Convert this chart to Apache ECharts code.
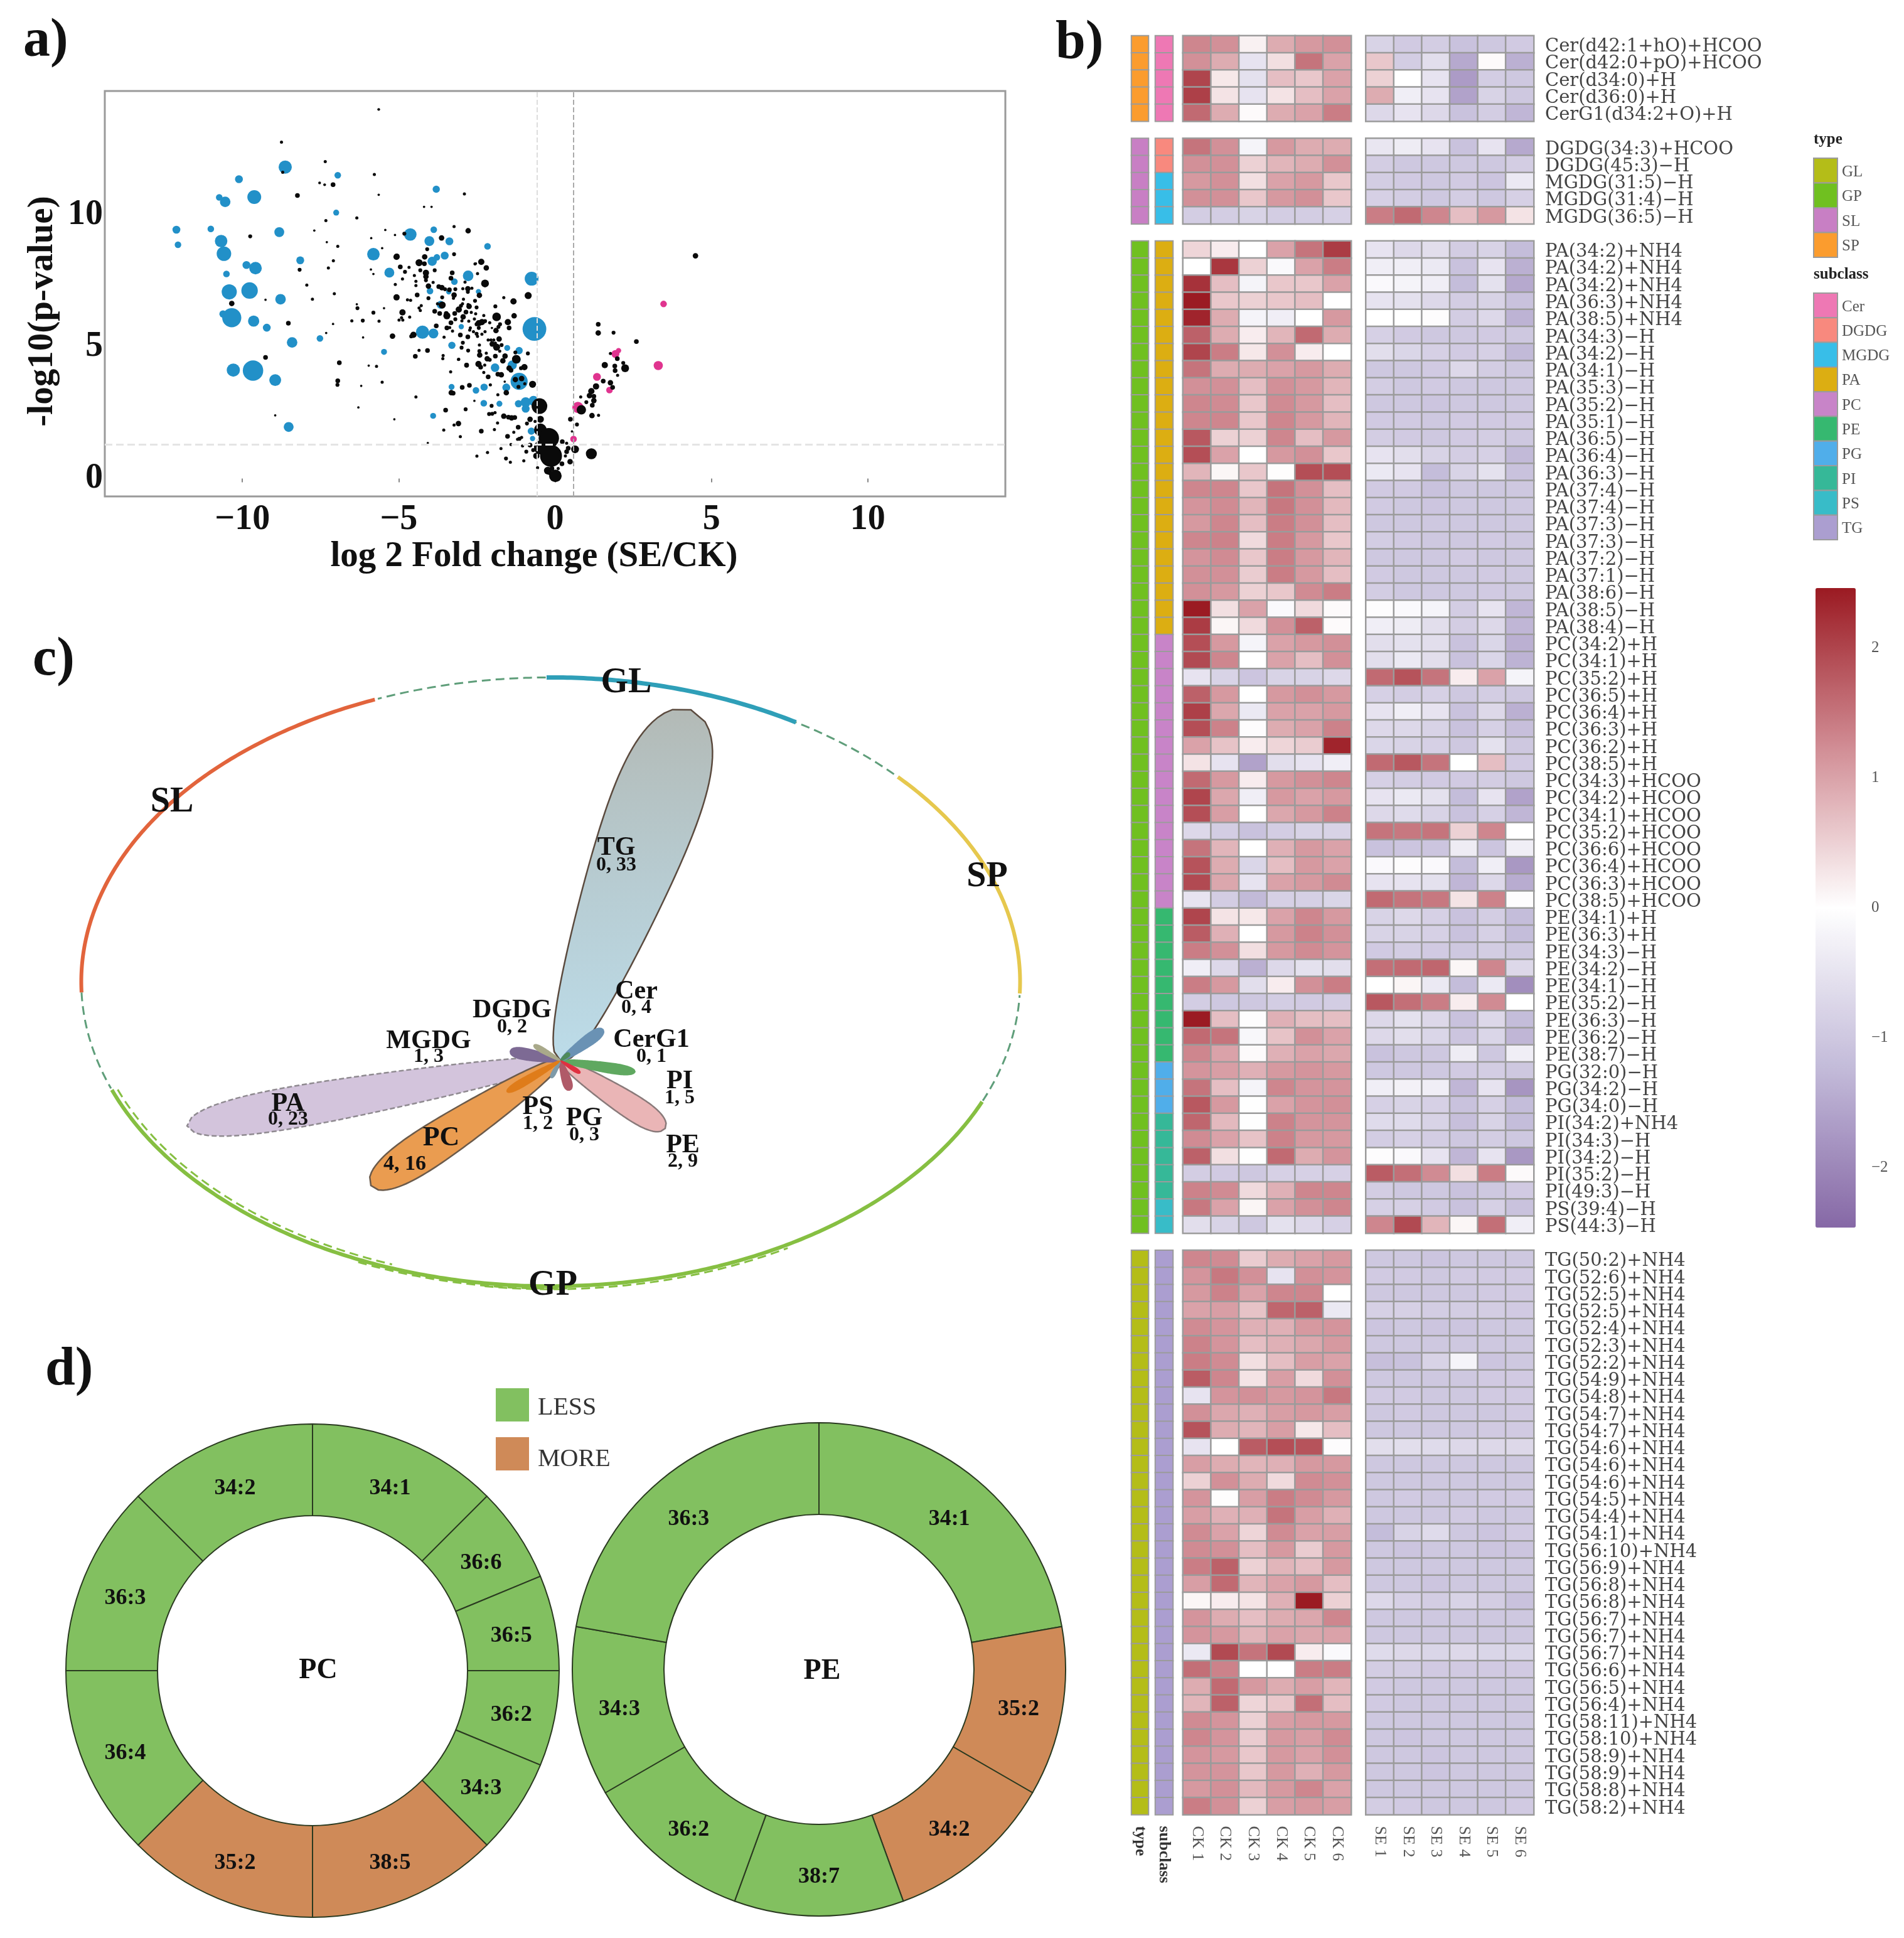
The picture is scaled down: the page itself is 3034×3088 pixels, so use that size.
<!DOCTYPE html>
<html><head><meta charset="utf-8">
<style>html,body{margin:0;padding:0;background:#fff}#c{width:3034px;height:3088px}</style>
<script src="https://cdn.jsdelivr.net/npm/echarts@6/dist/echarts.min.js"></script>
</head><body><div id="c"></div>
<script>
const SERIF='"Liberation Serif"';
// ---------- panel a: volcano [log2FC, -log10p, dot size]
const volcanoBlue=[[-12.11,9.45,12],[-12.06,8.88,10],[-11.01,9.48,10],[-10.11,11.37,12],[-10.74,10.68,10],[-10.55,10.51,16],[-9.62,10.69,21],[-8.63,11.83,20],[-6.95,11.52,10],[-3.8,10.99,11],[-7,10.1,9],[-8.82,9.36,15],[-10.68,9.02,19],[-10.59,8.54,22],[-9.87,8.11,12],[-9.58,7.99,19],[-8.15,8.29,12],[-10.51,7.77,10],[-10.42,7.09,23],[-9.77,7.14,25],[-8.78,6.81,16],[-10.62,6.25,11],[-10.34,6.11,29],[-9.64,5.98,17],[-9.22,5.73,12],[-8.41,5.17,16],[-7.52,5.32,10],[-10.29,4.12,20],[-9.66,4.1,31],[-8.95,3.74,18],[-8.52,1.96,15],[-4.63,9.27,19],[-5.81,8.52,19],[-5.3,7.82,15],[-4.02,9.02,15],[-3.88,9.45,10],[-3.38,9.01,12],[-3.53,8.47,12],[-3.78,8.4,10],[-3.93,8.25,14],[-2.16,8.82,10],[-2.78,7.7,16],[-3.22,7.48,10],[-2.45,7.1,8],[-3.4,7.09,8],[-4,7.12,10],[-3.66,6.6,12],[-0.75,7.59,21],[-0.66,5.68,36],[-4.24,5.56,20],[-3.89,5.51,15],[-3,5.77,8],[-3.3,5.06,11],[-5.47,4.81,9],[-1.53,4.96,9],[-1.15,4.86,11],[-1.23,4.51,12],[-1.37,4.31,14],[-1.92,4.21,13],[-1.15,3.69,26],[-1.56,3.46,12],[-2.27,3.47,11],[-2.53,3.35,10],[-3.31,3.48,9],[-2.28,2.86,10],[-1.78,2.84,9],[-1.17,2.84,11],[-0.94,2.9,15],[-0.69,2.95,15],[-0.94,2.65,12],[-3.9,2.38,9],[-0.76,1.8,11],[-0.72,1.52,8]];
const volcanoPink=[[0.73,2.7,17],[0.59,1.5,10],[1.34,3.86,12],[1.74,3.36,10],[1.93,4.73,12],[2.03,4.86,8],[3.3,4.29,14],[3.47,6.63,10]];
const volcanoBlack=[[-5.07,8.42,8],[-4.95,8.04,6],[-4.67,8.02,4],[-4.8,7.85,5],[-4.88,7.58,4],[-4.5,7.71,4],[-5.11,7.37,4],[-4.45,7.49,4],[-4.45,7.33,4],[-4.35,8.2,9],[-4.17,8.42,7],[-4.18,8.16,6],[-4.31,7.91,5],[-4.13,7.81,8],[-4.13,7.67,7],[-4.13,7.53,5],[-3.85,7.91,5],[-3.9,7.45,4],[-4.05,7.31,7],[-4.05,6.85,5],[-4.41,6.97,6],[-5.07,6.88,8],[-4.72,6.79,4],[-4.62,6.77,4],[-4.28,6.57,4],[-4.35,6.48,4],[-4.31,6.38,4],[-4.88,6.31,8],[-4.91,6.11,4],[-4.99,6.02,4],[-4.87,6.02,4],[-4.65,6.13,4],[-3.85,6.35,6],[-3.69,6.27,6],[-3.72,7.29,6],[-3.62,7.25,7],[-3.52,7.19,5],[-3.38,7.17,6],[-3.19,7.19,5],[-3.29,7.81,6],[-3.33,7.61,6],[-3.23,6.97,7],[-3.61,6.88,5],[-3.25,6.85,4],[-3.61,6.59,9],[-3.76,6.64,4],[-3.46,6.18,9],[-3.48,6.27,6],[-3.21,6.27,6],[-3.19,6.05,5],[-3.33,5.92,6],[-3.46,5.72,6],[-3.37,5.73,4],[-3.28,5.6,4],[-3.55,5.37,4],[-3.03,5.45,6],[-2.79,5.38,6],[-2.95,5.16,5],[-2.99,4.97,5],[-2.78,4.86,5],[-3.58,4.67,4],[-3.59,4.55,4],[-3.09,4.52,4],[-2.83,4.3,6],[-3.34,4.05,4],[-3.8,5.8,6],[-4.08,4.86,6],[-4.35,4.87,4],[-4.47,4.64,6],[-5.2,5.41,7],[-4.53,5.46,8],[-4.6,5.4,5],[-3.08,6.42,8],[-3.01,6.56,5],[-2.96,6.64,4],[-2.93,6.81,4],[-2.75,6.54,7],[-2.78,6.61,4],[-2.51,6.5,5],[-2.56,6.75,5],[-2.85,6.32,6],[-2.68,6.31,4],[-2.54,6.26,4],[-2.94,6.14,7],[-2.98,5.99,4],[-2.76,5.98,4],[-2.58,6.06,4],[-2.28,6.19,4],[-1.87,6.14,11],[-2.44,5.9,8],[-2.34,5.94,8],[-2.24,5.98,5],[-2.51,5.86,5],[-2.09,5.92,4],[-2.44,5.72,5],[-2.71,5.72,4],[-2.73,5.64,4],[-2.61,5.58,4],[-2.51,5.5,5],[-2.48,5.4,4],[-2.34,5.48,4],[-2.24,5.58,4],[-2.02,5.72,3],[-1.89,5.62,7],[-1.81,5.76,5],[-1.76,5.86,5],[-1.51,5.94,8],[-1.47,5.72,6],[-1.31,6.18,7],[-1.91,6.54,5],[-1.33,6.73,8],[-1.64,6.87,4],[-0.86,6.95,9],[-2.36,8.23,8],[-2.2,8,7],[-2.56,8.15,4],[-2.48,7.78,4],[-2.24,7.41,10],[-2.42,6.96,7],[-2.79,7.21,7],[-2.79,7.09,5],[-2.95,7.21,4],[-2.66,7.23,4],[-2.88,7.46,4],[-3.23,8.52,5],[-2.14,5.26,4],[-2.05,5.26,4],[-1.96,5.26,4],[-1.79,5.3,7],[-2.01,5.11,7],[-1.91,5.14,4],[-1.87,4.99,9],[-1.71,5.07,5],[-1.77,4.84,4],[-2.42,5.07,4],[-2.42,4.84,5],[-2.41,4.69,7],[-2.2,4.76,4],[-1.91,4.65,6],[-1.6,4.65,7],[-2.17,4.55,7],[-2.09,4.51,5],[-1.67,4.47,7],[-2.45,4.35,8],[-2.25,4.31,4],[-2.38,4.23,6],[-2.28,4.03,4],[-0.87,4.75,5],[-1.27,4.79,5],[-1.24,4.53,11],[-0.98,4.23,8],[-1.09,4.19,5],[-1.47,4.19,7],[-1.41,4.11,6],
[-3.08,4.53,4],[-2.83,4.31,6],[-2.28,4.04,3],[-2.14,3.86,6],[-1.83,3.96,6],[-1.72,3.94,7],[-2.97,3.46,6],[-2.74,3.54,6],[-2.07,3.56,4],[-1.83,3.18,4],[-1.56,3.26,7],[-1.61,3.68,3],[-0.72,3.58,9],[-3.26,3.24,6],[-2.03,2.76,5],[-2.86,2.63,5],[-2.11,2.45,5],[-2.01,2.46,5],[-1.92,2.5,4],[-1.64,2.37,7],[-1.49,2.33,6],[-1.39,2.3,7],[-1.29,2.32,6],[-1.84,2.11,4],[-3.09,2.09,7],[-3.23,2.03,4],[-2.36,1.8,6],[-1.94,1.86,4],[-1.18,1.95,6],[-1.32,1.76,4],[-1.52,1.6,6],[-3.03,1.59,4],[-1.2,1.49,4],[-1.14,1.51,5],[-1.07,1.56,4],[-1.41,1.29,4],[-1.04,1.24,4],[-1.73,1.14,4],[-2.16,0.99,4],[-2.5,0.85,4],[-1.57,0.76,5],[-1.43,0.62,4],[-1,0.67,4],[-0.92,1.02,5],[-0.7,1.08,5],[-0.8,1.27,6],[-0.6,0.86,8],[-0.56,0.41,4],[-0.8,2.25,7],[-0.47,2.25,9],[-0.64,2.17,4],[-0.9,2.09,5],[-0.47,1.85,16],[-0.45,1.18,18],[-0.23,0.3,10],[-0.1,0.38,6],[0.1,0.38,4],[0.22,0.56,6],[-0.17,0.22,6],[0.48,0.64,7],[0.37,1.02,6],[0.33,0.86,4],[0.42,1.15,6],[0.23,1.4,6],[0.37,1.34,4],[0.64,1.11,10],[0.7,2.05,5],[0.49,2.25,6],[0.54,1.79,3],[1.18,2.39,7],[1.39,2.4,4],[1.19,2.78,6],[1.24,2.96,7],[1.24,3.12,6],[1.1,3.15,7],[1.16,3.32,8],[1.31,3.5,8],[1.54,3.7,6],[1,2.9,5],[0.82,3.1,4],[1.59,4.31,8],[2,3.92,4],[1.92,4.1,6],[1.91,4.27,6],[2.18,4.39,5],[2.24,4.19,10],[1.99,4.55,6],[1.77,3.64,7],[1.84,3.46,6],[1.77,4.75,4],
[-0.5,2.75,20],[-0.2,1.53,26],[-0.13,0.86,28],[0.01,0.1,16],[1.16,0.94,14],[0.84,2.61,12],[-1.27,3.76,7],[-1.07,3.8,7],[-0.97,3.6,4],[-1.17,3.48,5],[4.49,8.46,7],[2.6,5.2,6],[1.38,5.86,6],[1.38,5.53,7],[1.87,5.54,5],
[-5.64,14.02,3.5],[-8.75,12.78,4],[-8.71,11.63,4],[-7.35,12.04,4],[-7.53,11.23,3.5],[-7.37,11.16,3.5],[-7.1,11.16,6],[-5.78,11.55,4],[-5.64,10.78,3],[-8.24,10.75,6],[-2.9,10.81,4],[-7.33,9.8,4],[-6.34,9.9,4],[-4.19,10.32,3],[-3.95,10.32,3],[-9.75,9.2,5],[-7.7,9.42,3],[-5.43,9.44,3],[-5.12,9.25,3],[-4.82,9.3,5],[-3.23,9.57,4],[-2.78,9.41,7],[-7.3,8.98,3],[-6.95,8.82,4],[-5.88,9.13,3],[-5.53,8.75,3],[-7.09,8.27,4],[-7.25,8,4],[-8.17,7.93,5],[-5.89,7.94,3],[-5.81,7.77,3],[-5.06,8.44,7],[-3.63,9.14,7],[-4.09,8.71,5],[-3.23,8.52,4],[-2.36,8.22,5],[-2.19,8.02,5],[-2.53,8.17,3],[-2.48,7.79,3],[-7.94,7.35,4],[-7.06,7.02,4],[-7.76,6.81,4],[-9.26,6.79,3],[-10.34,6.65,7],[-8.53,5.9,6],[-9.26,4.6,6],[-6.9,4.4,6],[-6.95,3.71,6],[-6.96,3.56,5],[-6.2,3.52,3],[-5.96,4.29,3],[-5.71,4.26,4],[-5.53,3.66,4],[-7.32,5.53,3],[-7.1,5.87,3],[-6.14,5.36,3],[-5.18,5.41,5],[-6.5,5.99,4],[-6.15,6,5],[-5.63,5.98,4],[-5.81,6.3,5],[-5.47,6.47,3],[-6.34,6.62,3],[-6.32,6.47,5],[-4.45,3.1,4],[-3.32,3.26,7],[-3.5,2.6,6],[-2.87,2.62,3.5],[-2.58,2.95,3],[-6.29,2.7,3],[-8.95,2.4,3],[-5.14,2.25,3],[-3.56,1.84,4],[-4.07,1.35,3],[-2.17,0.98,3],[-1.56,0.75,3]];
const volcanoTicksX=[-10,-5,0,5,10], volcanoTicksY=[0,5,10];
const foldCut=0.58, pCut=1.3;

// ---------- panel b: heatmap rows, null = gap between blocks
const lipidLabels=['Cer(d42:1+hO)+HCOO','Cer(d42:0+pO)+HCOO','Cer(d34:0)+H','Cer(d36:0)+H','CerG1(d34:2+O)+H',null,
'DGDG(34:3)+HCOO','DGDG(45:3)−H','MGDG(31:5)−H','MGDG(31:4)−H','MGDG(36:5)−H',null,
'PA(34:2)+NH4','PA(34:2)+NH4','PA(34:2)+NH4','PA(36:3)+NH4','PA(38:5)+NH4','PA(34:3)−H','PA(34:2)−H','PA(34:1)−H','PA(35:3)−H','PA(35:2)−H','PA(35:1)−H','PA(36:5)−H','PA(36:4)−H','PA(36:3)−H','PA(37:4)−H','PA(37:4)−H','PA(37:3)−H','PA(37:3)−H','PA(37:2)−H','PA(37:1)−H','PA(38:6)−H','PA(38:5)−H','PA(38:4)−H',
'PC(34:2)+H','PC(34:1)+H','PC(35:2)+H','PC(36:5)+H','PC(36:4)+H','PC(36:3)+H','PC(36:2)+H','PC(38:5)+H','PC(34:3)+HCOO','PC(34:2)+HCOO','PC(34:1)+HCOO','PC(35:2)+HCOO','PC(36:6)+HCOO','PC(36:4)+HCOO','PC(36:3)+HCOO','PC(38:5)+HCOO',
'PE(34:1)+H','PE(36:3)+H','PE(34:3)−H','PE(34:2)−H','PE(34:1)−H','PE(35:2)−H','PE(36:3)−H','PE(36:2)−H','PE(38:7)−H','PG(32:0)−H','PG(34:2)−H','PG(34:0)−H','PI(34:2)+NH4','PI(34:3)−H','PI(34:2)−H','PI(35:2)−H','PI(49:3)−H','PS(39:4)−H','PS(44:3)−H',null,
'TG(50:2)+NH4','TG(52:6)+NH4','TG(52:5)+NH4','TG(52:5)+NH4','TG(52:4)+NH4','TG(52:3)+NH4','TG(52:2)+NH4','TG(54:9)+NH4','TG(54:8)+NH4','TG(54:7)+NH4','TG(54:7)+NH4','TG(54:6)+NH4','TG(54:6)+NH4','TG(54:6)+NH4','TG(54:5)+NH4','TG(54:4)+NH4','TG(54:1)+NH4','TG(56:10)+NH4','TG(56:9)+NH4','TG(56:8)+NH4','TG(56:8)+NH4','TG(56:7)+NH4','TG(56:7)+NH4','TG(56:7)+NH4','TG(56:6)+NH4','TG(56:5)+NH4','TG(56:4)+NH4','TG(58:11)+NH4','TG(58:10)+NH4','TG(58:9)+NH4','TG(58:9)+NH4','TG(58:8)+NH4','TG(58:2)+NH4'];
const ckValues=[[1.3,1.2,.15,.9,1.1,1.2],[1.2,.9,-.5,.35,1.5,1],[2,.25,-.55,.7,.6,1],[2.05,.3,-.5,.3,.7,1],[1.6,.9,.05,.9,1,1.4],null,
[1.5,1.2,-.2,1.1,.9,.9],[1.2,1.2,.5,.8,.9,1.2],[1.1,1.2,.35,1,1.1,.6],[1.2,1.2,.6,1.1,1.2,.6],[-.9,-.9,-.8,-.9,-.9,-.85],null,
[.45,.2,0,1,1.5,2.1],[0,2.15,.5,-.1,1,1.4],[2.2,.7,-.2,.6,.6,1],[2.45,.6,.5,.6,.7,0],[2.35,.9,-.2,-.3,0,1.1],[1.7,.9,.2,.8,1.6,.9],[2,1.4,.25,1.2,.2,0],[1.5,.9,.9,1,1.1,.9],[1.2,1.2,.7,1.2,1.1,.8],[1.3,1.25,.6,1.25,1.1,.7],[1.3,1.3,.6,1.3,1.1,.8],[1.8,.5,.5,1.3,.7,1.1],[1.9,1,0,1.1,1.2,.6],[.8,.1,.6,.02,1.9,1.9],[1.3,1.3,.6,1.5,1.2,.7],[1.15,1.25,.8,1.45,1.2,.75],[1.1,1.3,.7,1.4,1.2,.7],[1.3,1.35,.4,1.4,1.1,.6],[1.15,1.25,.6,1.4,1.1,.8],[1.2,1.2,.55,1.4,1.1,.7],[1.2,1.1,.5,.6,1.25,1.4],[2.45,.35,1,-.1,.4,.05],[2.1,.1,.4,1.2,1.7,.05],
[1.9,1.1,-.2,1,1.1,1.2],[1.95,1.3,0,1,.7,1.2],[-.5,-.8,-1.05,-.8,-.8,-.7],[1.7,1.1,0,1.1,1.2,1.1],[2.05,.95,-.4,1,1,1.1],[1.9,1.35,-.05,.9,1,1.35],[1,.65,.2,.45,.55,2.35],[.3,-.5,-1.6,-.6,-.5,-.3],[1.6,1.1,.2,1.1,1.2,1.3],[2,.95,-.3,1.1,1,1.1],[1.9,1.05,0,.95,1.1,1.35],[-.7,-.9,-1.1,-.9,-.8,-.8],[1.5,.8,0,.85,1.1,1],[1.85,.9,-.75,.7,1.1,1],[1.95,.95,-.5,1,1.1,1.25],[-.5,-.9,-1.25,-.85,-.85,-.75],
[2,.3,.25,1,1.3,1.1],[1.75,.85,0,1.1,1.35,1.2],[1.4,1.2,.35,1.1,1.25,1.15],[-.3,-.7,-1.4,-.7,-.55,-.6],[1.4,1.1,-.6,.2,1.2,1.4],[-.9,-1,-1,-.9,-.95,-.9],[2.45,.7,-.05,.85,.7,.7],[1.6,1.5,-.15,.65,1.2,1],[1.3,1,.05,.85,1,.95],[1.15,1.05,.85,1.1,1.15,1.1],[1.5,.7,-.2,1.3,1.15,1.15],[1.8,1.1,-.02,1,1.15,1.2],[1.65,.75,-.02,1.35,1.15,1.15],[1.25,1,.65,1.35,1.1,1.1],[1.7,.35,-.02,1.6,.9,1.15],[-.9,-.95,-1,-.85,-.85,-.85],[1.35,1.25,.4,.85,1.3,1.3],[1.45,1,.1,1,1.2,1.3],[-.6,-.8,-1,-.55,-.7,-.85],null,
[1.3,1.25,.55,.9,1,1.1],[1.15,1.45,1.2,-.5,1.2,1.15],[1.1,1.35,1,1.3,1.3,0],[1,1.05,.65,1.65,1.7,-.4],[1.25,1.15,.85,.85,1.1,1.15],[1.35,1.15,.7,.85,.95,1.1],[1.4,1.25,.35,.7,1.05,1],[1.75,1.3,.3,1.05,.4,1.2],[-.5,1.15,1.2,1.1,1.15,1.45],[1.2,.95,.85,1.05,1.1,1.05],[1.85,.9,.8,1.05,.25,.7],[-.5,0,1.75,1.9,1.85,-.05],[1.05,.9,.8,.85,1.1,1.1],[.5,1.2,.9,.4,1.25,1.2],[1.15,.02,1.05,1.4,1.25,1.1],[1.05,.85,.85,1.5,1.05,.85],[1.25,1,.45,1.25,1,1.05],[1.25,1.2,.7,1.1,.55,1.1],[1.4,1.7,.5,.8,.7,1.1],[1.05,1.6,.8,1,1.1,.7],[.1,.2,.3,.85,2.45,.5],[1.15,.9,.7,.9,.95,1.3],[1.15,1.1,.8,1,.95,1],[-.4,1.95,1.5,1.95,.2,-.1],[1.55,1.35,0,0,1.4,1.4],[.9,1.6,1.1,.9,1.05,.8],[.8,1.7,.45,.6,1.55,.7],[1.25,1.15,.5,1.05,1.1,1.1],[1.3,1.15,.55,1.1,1.05,1.25],[1.15,1.1,.6,1.1,1,1.2],[1.15,1.15,.6,1.1,.85,1.1],[1.1,1.2,.75,1.1,1.3,1],[1.4,1.2,.5,1.05,1.1,1.05]];
const seValues=[[-.8,-.95,-.9,-1.1,-1,-.95],[.6,-.9,-.6,-1.5,.05,-1.4],[.5,0,-.5,-1.7,-.9,-1],[.9,-.3,-.5,-1.6,-.8,-1],[-.7,-.5,-.7,-1.1,-.9,-1.3],null,
[-.45,-.35,-.5,-1.1,-.5,-1.5],[-.9,-1,-1,-1,-1,-.9],[-.9,-.95,-1,-.95,-1.05,-.4],[-.85,-.9,-1,-.9,-1,-.85],[1.4,1.6,1.3,.7,1.1,.3],null,
[-.5,-.7,-.6,-.9,-.8,-1.2],[-.3,-.3,-.4,-1.1,-.5,-1.4],[-.1,-.2,-.3,-1.2,-.55,-1.5],[-.5,-.55,-.7,-.9,-.8,-1.1],[0,0,-.05,-.9,-.7,-1.35],[-.85,-.95,-1,-1,-.95,-1],[-.6,-.75,-.85,-.95,-.85,-1.25],[-1,-1,-.95,-.7,-.9,-1],[-.9,-1,-.95,-1,-1,-1],[-1,-1,-1.05,-1,-1,-1],[-.95,-.95,-1,-.95,-.95,-.95],[-.9,-.95,-1,-.95,-.9,-1],[-.5,-.6,-.8,-.9,-.85,-1.25],[-.4,-.5,-1.2,-.8,-.55,-1.1],[-.95,-.95,-1.1,-1,-1,-1],[-.95,-1,-1.05,-1,-1,-1],[-1,-1,-1,-1,-1,-1],[-.9,-.95,-1,-1,-.95,-1],[-1,-1,-1,-.95,-1,-1],[-.95,-1,-1,-1,-.95,-1],[-.9,-1,-1,-1,-.95,-1],[-.05,-.1,-.2,-.9,-.5,-1.3],[-.3,-.35,-.6,-.9,-.7,-1.3],
[-.6,-.55,-.6,-1.1,-.75,-1.4],[-.6,-.4,-.6,-1.1,-.75,-1.35],[1.6,1.85,1.5,.2,1,-.2],[-.85,-.9,-.85,-1,-.9,-1],[-.5,-.3,-.5,-1.1,-.7,-1.4],[-.7,-.7,-.8,-1.1,-.85,-1.15],[-.75,-.8,-.85,-1,-.55,-1],[1.6,1.8,1.5,0,.7,-.95],[-.85,-.9,-.95,-.95,-.9,-1],[-.5,-.4,-.55,-1.2,-.5,-1.6],[-.7,-.65,-.8,-1.1,-.85,-1.3],[1.5,1.45,1.5,.5,1.3,0],[-1.1,-1.05,-1.05,-.35,-1.05,-.3],[-.1,-.05,-.1,-1.2,-.3,-1.75],[-.5,-.5,-.55,-1.3,-.7,-1.45],[1.6,1.5,1.45,.3,1.35,-.05],
[-.8,-.7,-.85,-1.1,-.9,-1.2],[-.8,-.8,-.85,-1.1,-.85,-1.2],[-.95,-.9,-.95,-1,-.9,-1],[1.55,1.6,1.65,.1,1.3,-.7],[0,.1,-.4,-1.2,-.4,-1.9],[1.8,1.55,1.4,.2,1.25,0],[-.7,-.55,-.7,-1.1,-.7,-1.2],[-.7,-.6,-.75,-1.05,-.75,-1.3],[-1.1,-1,-1,-.35,-1,-.3],[-1,-1,-1,-.95,-.9,-1],[-.3,-.25,-.3,-1.3,-.5,-1.8],[-.85,-.8,-.85,-1.1,-.85,-1.2],[-.65,-.65,-.8,-1.15,-.8,-1.2],[-.9,-.85,-.9,-1,-.9,-1],[-.05,-.1,-.5,-1.3,-.5,-1.75],[1.75,1.55,1.25,.35,1.4,.05],[-.9,-1,-1,-1.1,-1,-.95],[-.85,-.85,-.95,-1.1,-.85,-1.1],[1.3,1.95,.8,.1,1.55,-.3],null,
[-1,-1,-1.05,-1,-1,-1],[-.95,-.95,-1,-.95,-.95,-.95],[-1,-1,-1,-1,-.95,-.95],[-.85,-.85,-.9,-.9,-.9,-.95],[-1.05,-1,-1.05,-1.05,-1,-1],[-1,-1,-1,-1,-1,-1],[-1.15,-1.1,-.8,-.2,-1.05,-1],[-1,-1,-1,-1,-.95,-.95],[-.95,-.95,-1,-1,-.95,-.95],[-1,-.95,-1,-1,-1,-.95],[-1,-1,-1,-1,-.95,-.95],[-.6,-.6,-.65,-.7,-.7,-.7],[-1,-1,-1,-1,-1,-1],[-1,-1,-1,-1,-1,-1],[-1,-.95,-1,-1,-.95,-.95],[-1,-1,-1,-.95,-1,-1],[-1.2,-.8,-.65,-1,-1.05,-.95],[-1,-1.05,-1,-1,-1.05,-1.05],[-1,-1,-1,-1,-1,-1],[-1,-1,-1.05,-1,-1,-1],[-.7,-.85,-.9,-.8,-.9,-1.1],[-1,-1,-1,-1,-1,-1],[-1,-1,-1,-1,-1,-1],[-.65,-.7,-.75,-.7,-.75,-.75],[-.9,-.9,-.95,-.95,-.95,-.95],[-.95,-1,-1,-1,-1,-1],[-.95,-1,-1,-1,-1,-1],[-1,-1,-1,-1,-1,-1],[-1,-1.05,-1,-1,-1,-1],[-1,-1,-1.05,-1,-1,-1],[-1,-1,-1.05,-1,-1,-1],[-1,-1,-1,-1,-1,-1],[-.9,-.95,-1,-1,-1,-.95]];
const ckNames=['CK 1','CK 2','CK 3','CK 4','CK 5','CK 6'], seNames=['SE 1','SE 2','SE 3','SE 4','SE 5','SE 6'];
const typeNames=['GL','GP','SL','SP'], typeColors=['#b4bd18','#70c020','#c87fc4','#fb9c2e'];
const subNames=['Cer','DGDG','MGDG','PA','PC','PE','PG','PI','PS','TG'];
const subColors=['#ee78b4','#f8897e','#38bee8','#dcae12','#c884c8','#36b870','#50aeea','#36b898','#38bcc8','#ab9ed0'];
const subToType={Cer:'SP',DGDG:'SL',MGDG:'SL',PA:'GP',PC:'GP',PE:'GP',PG:'GP',PI:'GP',PS:'GP',TG:'GL'};
const colorTicks=[-2,-1,0,1,2], colorLimit=2.46;

// ---------- panel c: ring arcs (degrees on an ellipse) and petals
const ringStart=[112,90.6,58.5,43,-2.2,-23,200.8,182,201,246,262];
const ringEnd  =[182,112,90.6,58.5,42.5,-2.2,337,200.8,250,272,300];
const ringColor=['#e2643c','#5f9e7a','#2f9fb8','#5f9e7a','#e6c84e','#5f9e7a','#86bf42','#5f9e7a','#86bf42','#86bf42','#86bf42'];
const ringWidth=[6,3,7,3,6,3,6,3,3,3,3];
const ringDashed=[0,1,0,1,0,1,0,1,1,1,1];
const ringScale=[1,1,1,1,1,1,1,1,.988,1.008,1.01];
const petalNames=['TG','PA','PC','PE','PI','Cer','CerG1','MGDG','DGDG','PG','PS','PE core','PC core'];
const petalTipX=[208,-595,-302,167,120,69,15,-81,-43,15,-15,32,-86];
const petalTipY=[559,-104,-199,-108,-18,50,12,15,25,-48,-28,-20,-50];
const petalHalf=[72,33,32,20,9,10,4,10,5,8,4,4,7];
const petalFill=['#bcd9e6','#d3c4dc','#ea9c50','#eab5b6','#5fa860','#6a92b4','#4f8a5a','#7d6a94','#a9a98a','#b05a68','#7f9aa8','#e03040','#df7c1a'];
const petalStroke=['#5b4a3e','#8f8a90','#6b5a4a','#8a7a7a',null,null,null,null,null,null,null,null,null];
const petalText=[['TG','0, 33',982,1351,1379],['DGDG','0, 2',816,1610,1637],['MGDG','1, 3',683,1659,1684],['Cer','0, 4',1014,1580,1606],['CerG1','0, 1',1038,1657,1684],['PI','1, 5',1083,1723,1750],['PE','2, 9',1088,1825,1851],['PG','0, 3',931,1782,1809],['PS','1, 2',857,1764,1791],['PA','0, 23',459,1759,1784]];
const ringText=[['GL',998,1089],['SL',274,1279],['SP',1573,1398],['GP',881,2049]];

// ---------- panel d: donuts
const pcNames=['34:1','36:6','36:5','36:2','34:3','38:5','35:2','36:4','36:3','34:2'];
const pcValues=[2,1,1,1,1,2,2,2,2,2];
const pcKinds=['LESS','LESS','LESS','LESS','LESS','MORE','MORE','LESS','LESS','LESS'];
const peNames=['34:1','35:2','34:2','38:7','36:2','34:3','36:3'];
const peValues=[2,1,1,1,1,1,2];
const peKinds=['LESS','MORE','MORE','LESS','LESS','LESS','LESS'];
const kindColor={LESS:'#82c060',MORE:'#cf8a58'};

// ---------- assemble
const rowLabels=lipidLabels.map(l=>l||'');
function subOf(l){let s=l.slice(0,l.indexOf('('));return s==='CerG1'?'Cer':s;}
const ckData=[],seData=[],typeData=[],subData=[];
lipidLabels.forEach((l,r)=>{ if(!l) return;
  ckValues[r].forEach((v,c)=>ckData.push([c,r,v]));
  seValues[r].forEach((v,c)=>seData.push([c,r,v]));
  const s=subOf(l), t=subToType[s];
  typeData.push({value:[0,r,1],itemStyle:{color:typeColors[typeNames.indexOf(t)]}});
  subData.push({value:[0,r,1],itemStyle:{color:subColors[subNames.indexOf(s)]}});
});
const minus=v=>String(v).replace('-','−');
const HEAT_GRIDS=[{left:1803,width:27},{left:1841,width:28},{left:1885,width:268},{left:2176.5,width:267.5}];
const heatTop=57, heatH=2834.6;
const grids=[{left:167,top:145,width:1435,height:646,show:true,borderColor:'#9a9a9a',borderWidth:3,backgroundColor:'#fff'}]
  .concat(HEAT_GRIDS.map(g=>({left:g.left,width:g.width,top:heatTop,height:heatH})))
  .concat([{left:0,top:980,width:1700,height:1120},{left:2893,top:937,width:64,height:1019},
           {left:2176.5,width:267.5,top:heatTop+4,height:heatH}]);
const hubX=893, hubY=1690;
const colLabel=(bold)=>({show:true,rotate:-90,margin:18,interval:0,fontFamily:SERIF,fontSize:26,fontWeight:bold?'bold':'normal',color:bold?'#333':'#555'});
const xAxes=[
 {gridIndex:0,type:'value',min:-14.4,max:14.4,splitLine:{show:false},axisLine:{show:false},
  axisTick:{show:true,length:6,lineStyle:{color:'#888',width:2},customValues:volcanoTicksX},
  axisLabel:{customValues:volcanoTicksX,formatter:minus,fontFamily:SERIF,fontWeight:'bold',fontSize:56,color:'#111',margin:10}},
 {gridIndex:1,type:'category',data:['type'],axisLine:{show:false},axisTick:{show:false},axisLabel:colLabel(true)},
 {gridIndex:2,type:'category',data:['subclass'],axisLine:{show:false},axisTick:{show:false},axisLabel:colLabel(true)},
 {gridIndex:3,type:'category',data:ckNames,axisLine:{show:false},axisTick:{show:false},axisLabel:colLabel(false)},
 {gridIndex:4,type:'category',data:seNames,axisLine:{show:false},axisTick:{show:false},axisLabel:colLabel(false)},
 {gridIndex:5,type:'value',min:-hubX,max:1700-hubX,show:false},
 {gridIndex:6,type:'value',min:0,max:1,show:false},
 {gridIndex:7,type:'value',min:0,max:1,show:false}
];
const heatY=(g,show)=>({gridIndex:g,type:'category',data:rowLabels,inverse:true,position:show?'right':'left',axisLine:{show:false},axisTick:{show:false},
  axisLabel:{show:show,interval:0,margin:18,fontFamily:'"DejaVu Serif"',fontSize:29,color:'#444'}});
const yAxes=[
 {gridIndex:0,type:'value',min:-0.68,max:14.72,splitLine:{show:false},axisLine:{show:false},axisTick:{show:false},
  axisLabel:{customValues:volcanoTicksY,fontFamily:SERIF,fontWeight:'bold',fontSize:56,color:'#111',margin:3}},
 heatY(1,false),heatY(2,false),heatY(3,false),heatY(4,false),
 {gridIndex:5,type:'value',min:hubY-2100,max:hubY-980,show:false},
 {gridIndex:6,type:'value',position:'right',min:-colorLimit,max:colorLimit,splitLine:{show:false},axisLine:{show:false},axisTick:{show:false},
  axisLabel:{customValues:colorTicks,formatter:minus,fontFamily:SERIF,fontSize:25,color:'#555',margin:25}},
 heatY(7,true)
];
const vol=(name,data,color,k)=>({name,type:'scatter',xAxisIndex:0,yAxisIndex:0,data,symbolSize:d=>d[2]*k,itemStyle:{color,opacity:1},silent:true});
const heat=(name,g,data,cellBorder)=>({name,type:'heatmap',xAxisIndex:g,yAxisIndex:g,data,silent:true,progressive:0,
  itemStyle:{borderColor:'#9b9b9b',borderWidth:cellBorder},emphasis:{disabled:true}});
const series=[];
const blue=vol('SE less',volcanoBlue,'#2290c8',1.05);
blue.markLine={silent:true,symbol:'none',label:{show:false},animation:false,data:[
  {xAxis:-foldCut,lineStyle:{color:'#dddddd',type:'dashed',width:2}},
  {xAxis:foldCut,lineStyle:{color:'#aaaaaa',type:'dashed',width:2}},
  {yAxis:pCut,lineStyle:{color:'#e4e4e4',type:'dashed',width:3}}]};
series.push(blue,vol('SE more',volcanoPink,'#e0348f',1.05),vol('n.s.',volcanoBlack,'#0a0a0a',1.25));
series.push(heat('type',1,typeData,2),heat('subclass',2,subData,2));
const ckIdx=series.push(heat('CK',3,ckData,2.5))-1;
const seIdx=series.push(heat('SE',4,seData,2.5))-1;
// ring
const ringCx=-15.5, ringCy=125.6, ringRx=748, ringRy=485;
series.push({type:'custom',name:'ring',xAxisIndex:5,yAxisIndex:5,silent:true,clip:false,
  data:ringStart.map((s,i)=>[s,ringEnd[i],i]),
  renderItem:(p,api)=>{const i=p.dataIndex,pts=[];const f=ringScale[i];
    for(let a=ringStart[i];a<=ringEnd[i];a+=0.5){const r=a*Math.PI/180;pts.push(api.coord([ringCx+f*ringRx*Math.cos(r),ringCy+f*ringRy*Math.sin(r)]));}
    return {type:'polyline',shape:{points:pts},style:{fill:null,stroke:ringColor[i],lineWidth:ringWidth[i],lineDash:ringDashed[i]?[14,8]:null}};}});
// petals
series.push({type:'custom',name:'petals',xAxisIndex:5,yAxisIndex:5,silent:true,clip:false,
  data:petalNames.map((n,i)=>[petalTipX[i],petalTipY[i],i]),
  renderItem:(p,api)=>{const i=p.dataIndex,tx=petalTipX[i],ty=petalTipY[i],len=Math.hypot(tx,ty),nx=-ty/len,ny=tx/len,L=[],R=[];
    for(let k=0;k<=60;k++){const t=k/60,w=petalHalf[i]*Math.pow(t,.45)*Math.sqrt(1-Math.pow(t,6))/.8;
      L.push(api.coord([tx*t+nx*w,ty*t+ny*w]));R.unshift(api.coord([tx*t-nx*w,ty*t-ny*w]));}
    const fill=i===0?new echarts.graphic.LinearGradient(0,0,0,1,[{offset:0,color:'#b3bab6'},{offset:.5,color:'#b7ccd2'},{offset:1,color:'#bcdce9'}]):petalFill[i];
    return {type:'polygon',shape:{points:L.concat(R)},style:{fill,stroke:petalStroke[i],lineWidth:petalStroke[i]?2.5:0,lineDash:i===1?[8,4]:null}};}});
// donuts
function donut(name,cx,cy,names,values,kinds){return {type:'pie',name,center:[cx,cy],radius:[247,393],startAngle:90,silent:true,animation:false,
  itemStyle:{borderColor:'#2a3a20',borderWidth:2},labelLine:{show:false},labelLayout:{dy:8},
  label:{show:true,position:'inside',formatter:'{b}',fontFamily:SERIF,fontWeight:'bold',fontSize:36,color:'#111'},
  data:names.map((n,i)=>({name:n,value:values[i],itemStyle:{color:kindColor[kinds[i]]}}))};}
series.push(donut('PC',498,2662,pcNames,pcValues,pcKinds),donut('PE',1305,2660,peNames,peValues,peKinds));

// text and legends
const T=(text,x,y,size,o={})=>({type:'text',silent:true,z:50,x,y,rotation:o.rot||0,style:{text,x:0,y:0,fontFamily:o.font||SERIF,fontWeight:o.w||'bold',fontSize:size,fill:o.c||'#111',align:o.a||'center',verticalAlign:'middle'}});
const R=(x,y,w,h,fill,stroke)=>({type:'rect',silent:true,z:40,shape:{x,y,width:w,height:h},style:{fill,stroke:stroke||null,lineWidth:stroke?2:0}});
const g=[];
g.push(T('a)',37,67,86,{a:'left'}),T('b)',1682,70,86,{a:'left'}),T('c)',52,1053,86,{a:'left'}),T('d)',72,2184,86,{a:'left'}));
g.push(T('log 2 Fold change (SE/CK)',851,887,57),T('-log10(p-value)',68,496,57,{rot:Math.PI/2}));
ringText.forEach(r=>g.push(T(r[0],r[1],r[2],56)));
petalText.forEach(r=>{g.push(T(r[0],r[2],r[3],42),T(r[1],r[2],r[4],32));});
g.push(T('PC',703,1814,44),T('4, 16',645,1855,34));
g.push(T('PC',507,2662,46),T('PE',1310,2663,46));
g.push(R(790,2212,53,53,kindColor.LESS),R(790,2290,53,53,kindColor.MORE));
g.push(T('LESS',857,2243,40,{a:'left',w:'normal',c:'#333'}),T('MORE',857,2325,40,{a:'left',w:'normal',c:'#333'}));
g.push(T('type',2890,223,25,{a:'left',c:'#222'}),T('subclass',2890,438,25,{a:'left',c:'#222'}));
typeNames.forEach((n,i)=>{g.push(R(2890,252+39.5*i,38,39.5,typeColors[i],'#9b9b9b'),T(n,2935,274+39.5*i,25,{a:'left',w:'normal',c:'#555'}));});
subNames.forEach((n,i)=>{g.push(R(2890,467+39.3*i,38,39.3,subColors[i],'#9b9b9b'),T(n,2935,489+39.3*i,25,{a:'left',w:'normal',c:'#555'}));});

const chart=echarts.init(document.getElementById('c'),null,{renderer:'canvas',width:3034,height:3088});
chart.setOption({animation:false,backgroundColor:'#fff',grid:grids,xAxis:xAxes,yAxis:yAxes,series,graphic:g,
  visualMap:{type:'continuous',min:-colorLimit,max:colorLimit,seriesIndex:[ckIdx,seIdx],show:true,calculable:false,realtime:false,padding:0,
    left:2893,top:937,itemWidth:64,itemHeight:1019,text:null,showLabel:false,hoverLink:false,
    inRange:{color:['#8668a6','#c3bbd9','#ffffff','#d18d95','#9b1a22']},textStyle:{color:'rgba(0,0,0,0)',fontSize:1}}});
</script></body></html>
